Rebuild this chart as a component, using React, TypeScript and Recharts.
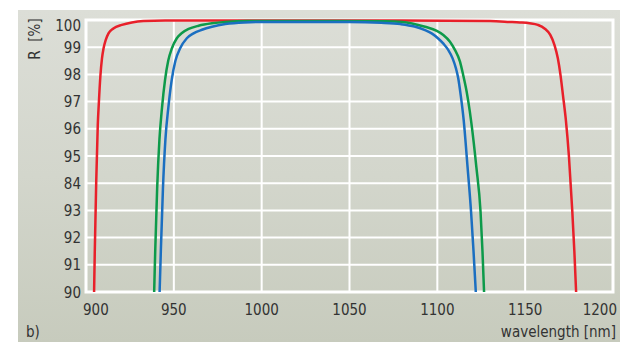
import React from 'react';
import { LineChart, Line, XAxis, YAxis, CartesianGrid, ReferenceArea } from 'recharts';

// wavelength [nm] / reflectance R [%] samples for each mirror curve
const redNm = [904.6, 905.0, 905.8, 906.7, 907.3, 908.2, 909.1, 910.0, 911.2, 912.8, 915.6, 920.4, 926.1, 932.7, 945, 1000, 1080, 1130, 1141, 1147, 1152.5, 1157.2, 1161, 1164.3, 1166.7, 1168.6, 1170.1, 1171.5, 1173.2, 1174.9, 1176.8, 1178.0, 1179.0];
const redR = [90, 91.5, 94, 96.14, 96.94, 97.95, 98.59, 98.96, 99.26, 99.51, 99.69, 99.82, 99.91, 99.96, 99.98, 99.98, 99.98, 99.96, 99.93, 99.91, 99.88, 99.82, 99.69, 99.45, 99.08, 98.59, 97.98, 97.24, 96.3, 95, 93, 91.5, 90];

const greenNm = [938.8, 939.4, 940.5, 941.8, 943.3, 945.0, 946.8, 948.9, 951.7, 954.6, 958.4, 964.1, 971.7, 979.3, 992, 1040, 1070, 1080, 1093, 1099.7, 1103.4, 1107.2, 1110, 1112.9, 1114.7, 1116.7, 1118.5, 1119.4, 1122.2, 1124.6, 1125.7, 1126.6];
const greenR = [90, 91.5, 93.8, 95.6, 96.8, 97.8, 98.5, 98.96, 99.33, 99.52, 99.67, 99.79, 99.88, 99.93, 99.96, 99.96, 99.95, 99.93, 99.75, 99.6, 99.45, 99.2, 98.9, 98.47, 97.98, 97.36, 96.63, 96.2, 94.6, 92.95, 91.5, 90];

const blueNm = [941.9, 942.6, 943.8, 945.2, 946.9, 948.8, 950.9, 953.6, 957.4, 961.2, 966, 971.7, 979.3, 990, 1005, 1050, 1068, 1079, 1087, 1093, 1097, 1100.5, 1103.6, 1106.2, 1108.7, 1110.6, 1111.9, 1113.3, 1115.0, 1117.2, 1119.2, 1120.6, 1121.9];
const blueR = [90, 91.5, 93.8, 95.6, 96.8, 97.8, 98.5, 98.96, 99.33, 99.51, 99.64, 99.75, 99.85, 99.91, 99.93, 99.93, 99.9, 99.85, 99.76, 99.63, 99.5, 99.32, 99.12, 98.9, 98.59, 98.22, 97.86, 97.24, 96.32, 94.6, 92.95, 91.5, 90];

const nmTicks = [900, 950, 1000, 1050, 1100, 1150, 1200];
const rTicks = [90, 91, 92, 93, 94, 95, 96, 97, 98, 99, 100];
const rTickLabels = ['90', '91', '92', '93', '84', '95', '96', '97', '98', '99', '100'];

const toPoints = (nm: number[], r: number[]) => nm.map((w, i) => ({ nm: w, r: r[i] }));

const FONT = "'DejaVu Sans Condensed', 'Liberation Sans Narrow', 'DejaVu Sans', sans-serif";
const TEXT = '#333333';

const XTick = (props: any) => {
  const { x, y, payload, index } = props;
  const last = index === nmTicks.length - 1;
  const anchor = index === 0 ? 'start' : last ? 'end' : 'middle';
  return (
    <text x={x + (last ? 4 : index === 0 ? -3 : 0)} y={y + 22.5} textAnchor={anchor} fontSize={15} fill={TEXT} fontFamily={FONT} style={{ fontStretch: 'condensed' }}>
      {payload.value}
    </text>
  );
};

const YTick = (props: any) => {
  const { x, y, payload } = props;
  const i = rTicks.indexOf(payload.value);
  // keep the top label inside the panel
  const shift = payload.value === 100 ? 5 : 0;
  return (
    <text x={x} y={y + 5.5 + shift} textAnchor="end" fontSize={15} fill={TEXT} fontFamily={FONT} style={{ fontStretch: 'condensed' }}>
      {rTickLabels[i]}
    </text>
  );
};

export default function App() {
  return (
    <div style={{ position: 'fixed', left: 0, top: 0, width: 620, height: 342, background: '#ffffff', overflow: 'hidden' }}>
      <div
        style={{
          position: 'absolute', left: 18, top: 10, width: 602, height: 332,
          background: 'linear-gradient(to bottom, #dcded7 0%, #d3d6cc 50%, #c7cbbd 100%)',
        }}
      />
      <div style={{ position: 'absolute', left: 0, top: 0 }}>
        <LineChart width={620} height={342} margin={{ top: 20, right: 7, bottom: 20, left: 36 }}>
          <CartesianGrid stroke="#ffffff" strokeWidth={2} />
          <XAxis
            type="number"
            dataKey="nm"
            domain={[900, 1200]}
            ticks={nmTicks}
            height={30}
            tickSize={0}
            tickMargin={0}
            axisLine={false}
            tickLine={false}
            tick={<XTick />}
            interval={0}
          />
          <YAxis
            type="number"
            dataKey="r"
            domain={[90, 100]}
            ticks={rTicks}
            width={50}
            tickSize={0}
            tickMargin={5}
            axisLine={false}
            tickLine={false}
            tick={<YTick />}
            interval={0}
          />
          <ReferenceArea x1={900} x2={1200} y1={90} y2={100} fill="none" fillOpacity={0} stroke="#ffffff" strokeWidth={3} />
          <Line data={toPoints(redNm, redR)} dataKey="r" type="monotone" stroke="#e8202a" strokeWidth={2.5} dot={false} isAnimationActive={false} />
          <Line data={toPoints(greenNm, greenR)} dataKey="r" type="monotone" stroke="#0d9a4a" strokeWidth={2.5} dot={false} isAnimationActive={false} />
          <Line data={toPoints(blueNm, blueR)} dataKey="r" type="monotone" stroke="#1b6fc1" strokeWidth={2.5} dot={false} isAnimationActive={false} />
        </LineChart>
      </div>
      <div style={{ position: 'absolute', left: 26, top: 15, width: 18, height: 48, display: 'flex', alignItems: 'center', justifyContent: 'center' }}>
        <span style={{ transform: 'rotate(-90deg)', whiteSpace: 'nowrap', fontFamily: FONT, fontStretch: 'condensed', fontSize: 15, color: TEXT }}>R&nbsp;&nbsp;[%]</span>
      </div>
      <span style={{ position: 'absolute', left: 26, top: 323, fontFamily: FONT, fontStretch: 'condensed', fontSize: 15, color: TEXT, lineHeight: '18px' }}>b)</span>
      <span style={{ position: 'absolute', right: 4, top: 323, fontFamily: FONT, fontStretch: 'condensed', fontSize: 15, color: TEXT, lineHeight: '18px' }}>wavelength [nm]</span>
    </div>
  );
}
